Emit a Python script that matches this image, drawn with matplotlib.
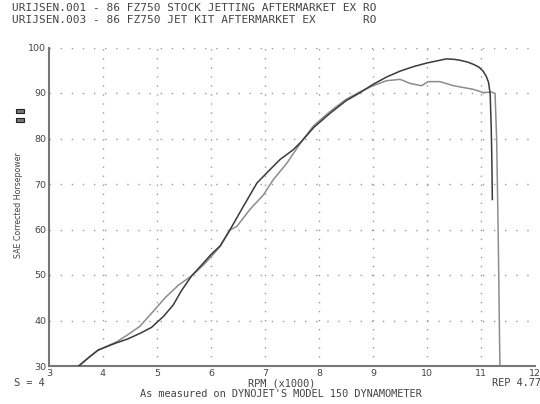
import matplotlib
matplotlib.use("Agg")
import matplotlib.pyplot as plt
from matplotlib.patches import Rectangle

title_lines = [
    "URIJSEN.001 - 86 FZ750 STOCK JETTING AFTERMARKET EX RO",
    "URIJSEN.003 - 86 FZ750 JET KIT AFTERMARKET EX       RO",
]

rpm_dark = [3.55, 3.75, 3.91, 4.10, 4.25, 4.45, 4.69, 4.90, 5.12, 5.30, 5.45, 5.64,
            5.85, 6.00, 6.17, 6.35, 6.60, 6.85, 7.03, 7.28, 7.52, 7.68, 7.90, 8.20,
            8.50, 8.75, 9.00, 9.25, 9.50, 9.75, 10.00, 10.20, 10.36, 10.50, 10.61,
            10.75, 10.86, 10.96, 11.04, 11.10, 11.14, 11.17, 11.19, 11.20, 11.21]
hp_dark = [30.0, 32.0, 33.5, 34.4, 35.1, 35.9, 37.2, 38.5, 40.9, 43.4, 46.5, 49.8,
           52.5, 54.5, 56.4, 59.9, 65.1, 70.2, 72.4, 75.4, 77.5, 79.4, 82.4, 85.5,
           88.3, 90.0, 91.9, 93.5, 94.8, 95.8, 96.6, 97.1, 97.5, 97.4, 97.2,
           96.8, 96.3, 95.7, 94.8, 93.6, 92.3, 89.8, 82.0, 76.1, 66.6]

rpm_light = [3.55, 3.75, 3.91, 4.10, 4.25, 4.45, 4.68, 4.93, 5.15, 5.40, 5.64, 5.86,
             6.00, 6.17, 6.35, 6.48, 6.72, 6.97, 7.15, 7.40, 7.68, 7.90, 8.20, 8.50,
             8.75, 9.00, 9.25, 9.50, 9.69, 9.90, 10.02, 10.24, 10.49, 10.86, 11.04,
             11.20, 11.26, 11.29, 11.32, 11.35]
hp_light = [30.0, 32.0, 33.5, 34.5, 35.3, 36.8, 38.7, 42.0, 45.0, 47.8, 49.8, 52.2,
            54.0, 56.3, 59.9, 60.7, 64.4, 67.6, 70.9, 74.5, 79.4, 82.8, 85.9, 88.6,
            90.2, 91.6, 92.7, 93.0, 92.1, 91.6, 92.5, 92.5, 91.6, 90.8, 90.1,
            90.2, 89.9, 79.8, 57.8, 30.0]

x_ticks = [3, 4, 5, 6, 7, 8, 9, 10, 11, 12]
y_ticks = [30, 40, 50, 60, 70, 80, 90, 100]

fig = plt.figure(figsize=(5.4, 4.04), dpi=100)
fig.patch.set_facecolor("white")
ax = fig.add_axes([49 / 540, 1 - 366 / 404, 486 / 540, (366 - 47.5) / 404])
ax.set_xlim(3, 12)
ax.set_ylim(30, 100)

gc = "#9a9a9a"
for y in y_ticks[1:]:
    ax.axhline(y, color=gc, lw=1.0, ls=(0, (1, 7)), zorder=1)
for x in x_ticks[1:-1]:
    ax.axvline(x, color=gc, lw=1.0, ls=(0, (1, 5.5)), zorder=1)

ax.plot(rpm_light, hp_light, color="#8c8c8c", lw=1.1, zorder=3)
ax.plot(rpm_dark, hp_dark, color="#3a3a3a", lw=1.1, zorder=4)

for s in ["top", "right"]:
    ax.spines[s].set_visible(False)
for s in ["left", "bottom"]:
    ax.spines[s].set_color("#777777")
    ax.spines[s].set_linewidth(1.5)

ax.set_xticks(x_ticks)
ax.set_yticks(y_ticks)
ax.set_xticklabels([str(v) for v in x_ticks])
ax.set_yticklabels([str(v) for v in y_ticks])
ax.tick_params(length=0, labelsize=6.8, colors="#444444", pad=2)

tc = "#444444"
fam = "DejaVu Sans Mono"
fig.text(12 / 540, 1 - 8 / 404, title_lines[0], fontsize=8, family=fam, color=tc, va="center")
fig.text(12 / 540, 1 - 20 / 404, title_lines[1], fontsize=8, family=fam, color=tc, va="center")
fs = 7.4
fig.text(14 / 540, 1 - 383 / 404, "S = 4", fontsize=fs, family=fam, color=tc, va="center")
fig.text(282 / 540, 1 - 383 / 404, "RPM (x1000)", fontsize=fs, family=fam, color=tc, va="center", ha="center")
fig.text(492 / 540, 1 - 383 / 404, "REP 4.77", fontsize=fs, family=fam, color=tc, va="center")
fig.text(281 / 540, 1 - 394 / 404, "As measured on DYNOJET'S MODEL 150 DYNAMOMETER",
         fontsize=fs, family=fam, color=tc, va="center", ha="center")
fig.text(19 / 540, 1 - 205 / 404, "SAE Corrected Horsepower", fontsize=5.7, family="DejaVu Sans",
         color=tc, rotation=90, va="center", ha="center")
for yy in (109, 118):
    fig.patches.append(Rectangle((16 / 540, 1 - (yy + 4) / 404), 8 / 540, 4 / 404,
                                 transform=fig.transFigure, facecolor="#777777",
                                 edgecolor="#222222", lw=0.8))

fig.savefig("out.png", dpi=100, facecolor="white")
